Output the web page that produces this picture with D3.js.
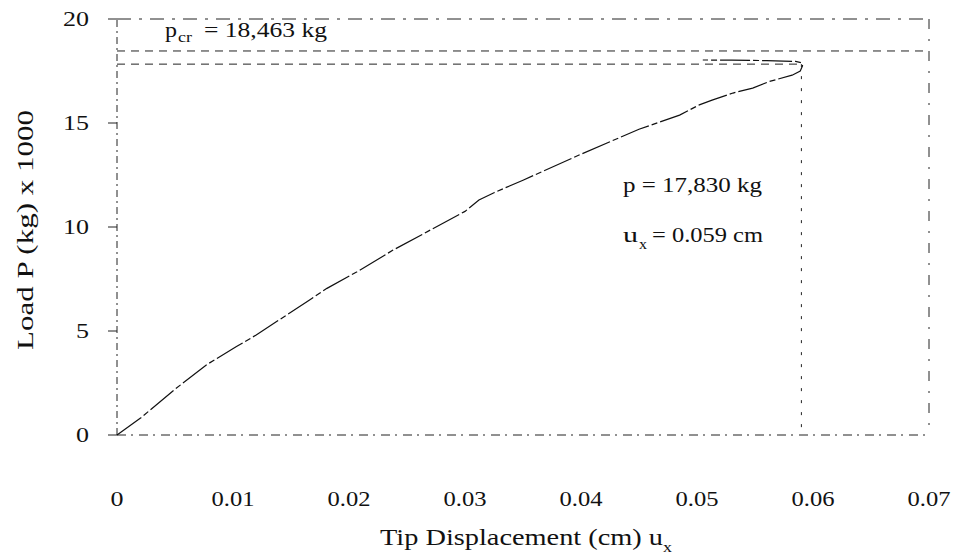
<!DOCTYPE html>
<html>
<head>
<meta charset="utf-8">
<script src="https://cdn.jsdelivr.net/npm/d3@7"></script>
<style>
  body { margin: 0; background: #fff; }
  svg text { font-family: "Liberation Serif", "DejaVu Serif", serif; fill: #111; }
</style>
</head>
<body>
<div id="chart"></div>
<script>
// tip displacement (cm) and load (kg x 1000)
const dispX = [0, 0.002, 0.005, 0.0077, 0.0103, 0.012, 0.0166, 0.0181, 0.0207, 0.0238,
               0.027, 0.030, 0.0312, 0.0325, 0.035, 0.040, 0.045, 0.0485, 0.0502,
               0.0513, 0.0531, 0.0548, 0.0562, 0.0582, 0.0589, 0.0591, 0.0590, 0.0585,
               0.056, 0.053, 0.0505];
const loadP = [0, 0.8, 2.2, 3.37, 4.25, 4.81, 6.49, 7.05, 7.85, 8.89,
               9.85, 10.75, 11.3, 11.65, 12.25, 13.5, 14.7, 15.38, 15.87,
               16.1, 16.44, 16.68, 16.99, 17.3, 17.5, 17.75, 17.9, 17.96,
               18.0, 18.02, 18.03];

const xTicks = [0, 0.01, 0.02, 0.03, 0.04, 0.05, 0.06, 0.07];
const yTicks = [0, 5, 10, 15, 20];

const pCr = 18.463;     // critical load
const pMax = 17.830;    // load at max displacement
const uMax = 0.059;     // max tip displacement

const width = 957, height = 554;
const margin = {top: 19, right: 28, bottom: 119, left: 117};

const svg = d3.select("#chart").append("svg")
    .attr("width", width)
    .attr("height", height);

const x = d3.scaleLinear().domain([0, 0.07]).range([margin.left, width - margin.right]);
const y = d3.scaleLinear().domain([0, 20]).range([height - margin.bottom, margin.top]);

// text stretched to the width it has in the scan
function label(g, tx, ty, str, size, len, anchor) {
    const t = g.append("text")
        .attr("x", tx).attr("y", ty)
        .attr("font-size", size)
        .attr("text-anchor", anchor || "start")
        .text(str);
    if (len) t.attr("textLength", len).attr("lengthAdjust", "spacingAndGlyphs");
    return t;
}

const frame = svg.append("g")
    .attr("stroke", "#222")
    .attr("stroke-width", 1)
    .attr("fill", "none");

// left axis line + bottom axis line (scanned look: broken dashes)
frame.append("line")
    .attr("x1", x(0)).attr("x2", x(0))
    .attr("y1", y(0)).attr("y2", y(20))
    .attr("stroke-dasharray", "7,4,2,4");
frame.append("line")
    .attr("x1", x(0)).attr("x2", x(0.07))
    .attr("y1", y(0)).attr("y2", y(0))
    .attr("stroke-dasharray", "9,5,2,6");
// top and right frame
frame.append("line")
    .attr("x1", x(0)).attr("x2", x(0.07))
    .attr("y1", y(20)).attr("y2", y(20))
    .attr("stroke-dasharray", "14,8,3,8");
frame.append("line")
    .attr("x1", x(0.07)).attr("x2", x(0.07))
    .attr("y1", y(20)).attr("y2", y(0))
    .attr("stroke-dasharray", "10,10,2,10");

// y ticks
svg.append("g")
    .selectAll("line")
    .data(yTicks)
    .join("line")
    .attr("x1", x(0) - 9).attr("x2", x(0))
    .attr("y1", d => y(d)).attr("y2", d => y(d))
    .attr("stroke", "#222");

const yLab = svg.append("g");
yTicks.forEach(d => {
    const s = String(d);
    label(yLab, x(0) - 28, y(d) + 7, s, 21, 13 * s.length, "end");
});

// x tick labels (sit well below the axis)
const xLab = svg.append("g");
xTicks.forEach(d => {
    const s = d === 0 ? "0" : d3.format(".2f")(d);
    label(xLab, x(d), 506, s, 21, d === 0 ? 13 : 43, "middle");
});

// reference lines
const ref = svg.append("g")
    .attr("stroke", "#222")
    .attr("stroke-width", 1)
    .attr("stroke-dasharray", "8,6");
ref.append("line")
    .attr("x1", x(0)).attr("x2", x(0.07))
    .attr("y1", y(pCr)).attr("y2", y(pCr));
ref.append("line")
    .attr("x1", x(0)).attr("x2", x(uMax))
    .attr("y1", y(pMax)).attr("y2", y(pMax));
ref.append("line")
    .attr("x1", x(uMax)).attr("x2", x(uMax))
    .attr("y1", y(pMax)).attr("y2", y(0))
    .attr("stroke-dasharray", "3,9");

// load-displacement curve
const pts = dispX.map((d, i) => [d, loadP[i]]);
svg.append("path")
    .datum(pts)
    .attr("fill", "none")
    .attr("stroke", "#111")
    .attr("stroke-width", 1.2)
    .attr("stroke-dasharray", "30,3,6,3")
    .attr("d", d3.line().x(d => x(d[0])).y(d => y(d[1])));

// annotations
const ann = svg.append("g");
label(ann, 165, 37, "p", 21, 12);
label(ann, 178, 42, "cr", 14, 14);
label(ann, 204, 37, "= 18,463 kg", 21, 123);

label(ann, 623, 192, "p = 17,830 kg", 21, 139);

label(ann, 623, 242, "u", 21, 15);
label(ann, 639, 249, "x", 14, 8);
label(ann, 652, 242, "= 0.059 cm", 21, 111);

// axis titles
label(svg, 380, 545, "Tip Displacement (cm) u", 23, 283);
label(svg, 663, 552, "x", 15, 9);

label(svg.append("g").attr("transform", "translate(33,230) rotate(-90)"),
      0, 0, "Load P (kg) x 1000", 24, 240, "middle");
</script>
</body>
</html>
